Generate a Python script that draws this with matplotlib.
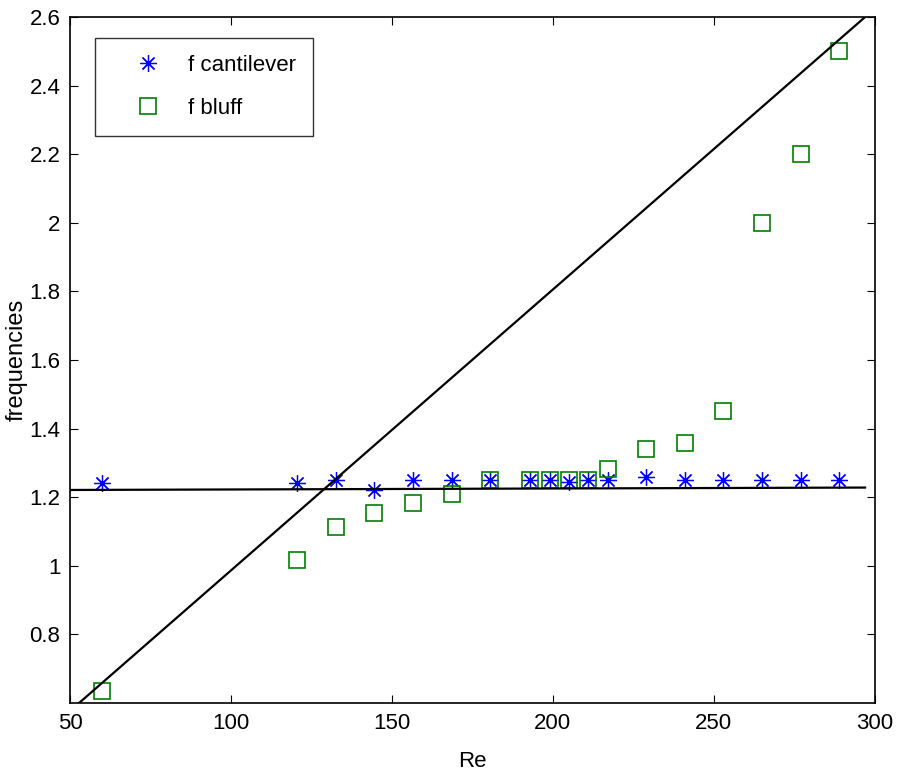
import numpy as np
import matplotlib
matplotlib.use("Agg")
import matplotlib.pyplot as plt

plt.rcParams['font.family'] = ['Liberation Sans', 'DejaVu Sans']

# Reynolds numbers of the measurements
re_vals = [60, 120.5, 132.5, 144.5, 156.5, 168.5, 180.5, 193, 199, 205,
           211, 217, 229, 241, 253, 265, 277, 289]
# cantilever frequency
f_cantilever = [1.24, 1.24, 1.25, 1.22, 1.25, 1.25, 1.25, 1.25, 1.25, 1.245,
                1.25, 1.25, 1.26, 1.25, 1.25, 1.25, 1.25, 1.25]
# bluff body shedding frequency
f_bluff = [0.635, 1.017, 1.112, 1.153, 1.182, 1.21, 1.25, 1.25, 1.25, 1.25,
           1.25, 1.282, 1.341, 1.358, 1.452, 2.0, 2.2, 2.5]

# fitted reference lines (end points)
line_steep_x = [50, 297]
line_steep_y = [0.577, 2.6]
line_flat_x = [50, 297]
line_flat_y = [1.221, 1.228]

fig = plt.figure(figsize=(8.99, 7.75), dpi=100)
ax = fig.add_axes([0.078, 0.093, 0.895, 0.885])

ax.plot(re_vals, f_cantilever, linestyle='none', marker=(8, 2, 0),
        markersize=12, color='blue', markeredgewidth=0.9, label='f cantilever')
ax.plot(re_vals, f_bluff, linestyle='none', marker='s', markersize=12,
        markerfacecolor='none', markeredgecolor='#008000', markeredgewidth=1.2,
        label='f bluff')
ax.plot(line_steep_x, line_steep_y, color='black', linewidth=1.6)
ax.plot(line_flat_x, line_flat_y, color='black', linewidth=1.6)

ax.set_xlim(50, 300)
ax.set_ylim(0.6, 2.6)
ax.set_xticks([50, 100, 150, 200, 250, 300])
ax.set_yticks([0.8, 1.0, 1.2, 1.4, 1.6, 1.8, 2.0, 2.2, 2.4, 2.6])
ax.set_yticklabels(['0.8', '1', '1.2', '1.4', '1.6', '1.8', '2', '2.2', '2.4', '2.6'])
ax.tick_params(direction='in', top=True, right=True, labelsize=16, length=6, pad=7)
for s in ax.spines.values():
    s.set_linewidth(1.2)

ax.set_xlabel('Re', fontsize=16)
ax.set_ylabel('frequencies', fontsize=17)
ax.xaxis.set_label_coords(0.5, -0.07)
ax.yaxis.set_label_coords(-0.053, 0.5)

leg = ax.legend(loc='upper left', bbox_to_anchor=(0.031, 0.969), fontsize=16,
                frameon=True, fancybox=False, edgecolor='black',
                borderpad=0.75, labelspacing=1.0, handletextpad=0.15,
                handlelength=3.3, borderaxespad=0)
leg.get_frame().set_linewidth(1.0)

fig.savefig('out.png', dpi=100)
